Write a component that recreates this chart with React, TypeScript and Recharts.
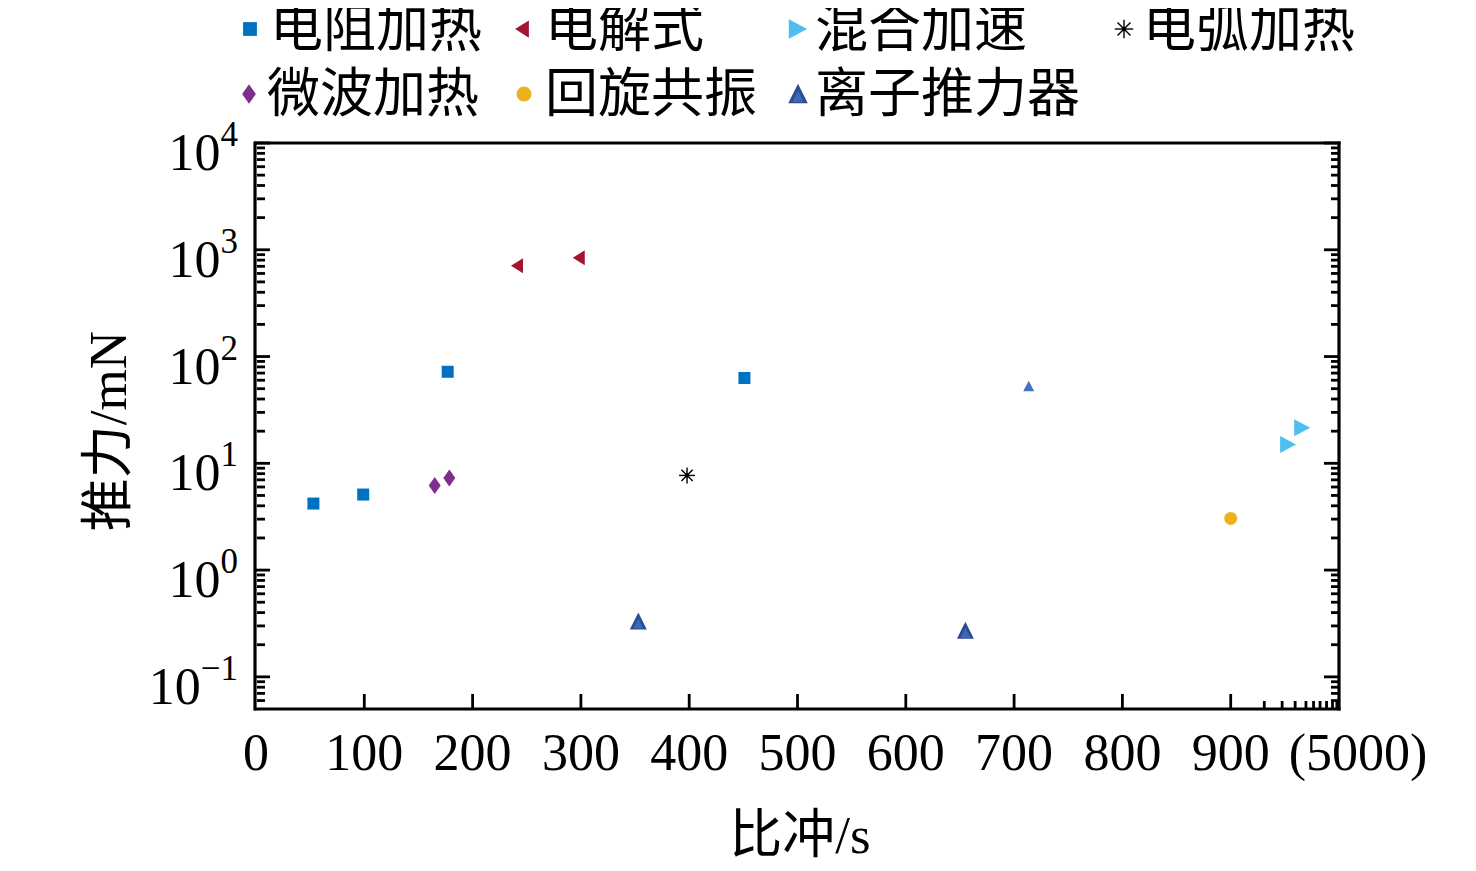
import React from 'react';
import { ScatterChart, Scatter, XAxis, YAxis } from 'recharts';

const FONT = "'Liberation Serif', 'Times New Roman', 'Noto Sans CJK SC', serif";

// ---------- data ----------
const seriesNames = ['电阻加热', '电解式', '混合加速', '电弧加热', '微波加热', '回旋共振', '离子推力器'];

const resistX = [53, 99, 177, 451];
const resistY = [4.2, 5.1, 72, 63];
const electrolyticX = [241, 298];
const electrolyticY = [710, 840];
const hybridX = [953, 966];
const hybridY = [15, 21.5];
const arcX = [398];
const arcY = [7.7];
const microwaveX = [165, 178.5];
const microwaveY = [6.2, 7.3];
const ecrX = [900];
const ecrY = [3.05];
const ionX = [353, 655, 713.5];
const ionY = [0.33, 0.27, 52];

const xMajorTicks = [0, 100, 200, 300, 400, 500, 600, 700, 800, 900, 1000];
const xTickLabels = ['0', '100', '200', '300', '400', '500', '600', '700', '800', '900', '(5000)'];
const xTopTicks = [100, 200, 300, 400, 500, 600, 700, 800, 900];
const xMinorTicks = [931, 947.5, 959.5, 969.5, 976.5, 982.5, 988.5, 994, 998];
const yMajorTicks = [0.1, 1, 10, 100, 1000, 10000];
const yTickExponents = ['−1', '0', '1', '2', '3', '4'];
const yMinorTicks = [
  0.06, 0.07, 0.08, 0.09,
  0.2, 0.3, 0.4, 0.5, 0.6, 0.7, 0.8, 0.9,
  2, 3, 4, 5, 6, 7, 8, 9,
  20, 30, 40, 50, 60, 70, 80, 90,
  200, 300, 400, 500, 600, 700, 800, 900,
  2000, 3000, 4000, 5000, 6000, 7000, 8000, 9000,
];

const zip = (xs: number[], ys: number[]) => xs.map((x, i) => ({ x, y: ys[i] }));
const resistData = zip(resistX, resistY);
const electrolyticData = zip(electrolyticX, electrolyticY);
const hybridData = zip(hybridX, hybridY);
const arcData = zip(arcX, arcY);
const microwaveData = zip(microwaveX, microwaveY);
const ecrData = zip(ecrX, ecrY);
const ionData = zip(ionX, ionY);

const xBottomAllTicks = [...xMajorTicks.slice(0, 10), ...xMinorTicks, 1000];

// ---------- styles ----------
const C_BLUE = '#0070C0';
const C_RED = '#A2142F';
const C_CYAN = '#4DBEEE';
const C_PURPLE = '#7E2F8E';
const C_YELLOW = '#EDB120';
const C_NAVY = '#2C4C8E';
const C_NAVY_IN = '#3D68B5';
const C_ION_SMALL = '#4472C4';

type Kind = 'square' | 'left' | 'right' | 'star' | 'diamond' | 'circle' | 'up' | 'upSmall';

function Marker({ kind, cx, cy, s = 1 }: { kind: Kind; cx: number; cy: number; s?: number }) {
  switch (kind) {
    case 'square':
      return <rect x={cx - 6 * s} y={cy - 6 * s} width={12 * s} height={12 * s} fill={C_BLUE} />;
    case 'left':
      return <polygon points={`${cx - 6 * s},${cy} ${cx + 6 * s},${cy - 7.5 * s} ${cx + 6 * s},${cy + 7.5 * s}`} fill={C_RED} />;
    case 'right':
      return <polygon points={`${cx + 8 * s},${cy} ${cx - 8 * s},${cy - 8.5 * s} ${cx - 8 * s},${cy + 8.5 * s}`} fill={C_CYAN} />;
    case 'star': {
      const r = 8 * s;
      const d = r * 0.7071;
      return (
        <g stroke="#000" strokeWidth={1.4}>
          <line x1={cx - r} y1={cy} x2={cx + r} y2={cy} />
          <line x1={cx} y1={cy - r} x2={cx} y2={cy + r} />
          <line x1={cx - d} y1={cy - d} x2={cx + d} y2={cy + d} />
          <line x1={cx - d} y1={cy + d} x2={cx + d} y2={cy - d} />
          <circle cx={cx} cy={cy} r={1.5} fill="#000" />
        </g>
      );
    }
    case 'diamond':
      return <polygon points={`${cx},${cy - 8.5 * s} ${cx + 6 * s},${cy} ${cx},${cy + 8.5 * s} ${cx - 6 * s},${cy}`} fill={C_PURPLE} />;
    case 'circle':
      return <circle cx={cx} cy={cy} r={6.5 * s} fill={C_YELLOW} />;
    case 'up':
      return (
        <g>
          <polygon points={`${cx},${cy - 9 * s} ${cx + 8.5 * s},${cy + 8 * s} ${cx - 8.5 * s},${cy + 8 * s}`} fill={C_NAVY} />
          <polygon points={`${cx},${cy - 3 * s} ${cx + 5 * s},${cy + 7 * s} ${cx - 5 * s},${cy + 7 * s}`} fill={C_NAVY_IN} />
        </g>
      );
    case 'upSmall':
      return <polygon points={`${cx},${cy - 6} ${cx + 5.5},${cy + 4.5} ${cx - 5.5},${cy + 4.5}`} fill={C_ION_SMALL} />;
  }
  return null;
}

const shapeOf = (kind: Kind) => (p: any) => <Marker kind={kind} cx={p.cx} cy={p.cy} />;
const ionShape = (p: any) => <Marker kind={p.index === 2 ? 'upSmall' : 'up'} cx={p.cx} cy={p.cy} />;

// ---------- tick renderers ----------
const M = 10; // tick margin used for all axes
const MAJOR = 15;
const MINOR = 8;
const TW = 2.8;

const XBottomTick = (p: any) => {
  const { x, y, payload } = p;
  const axisY = y - M;
  const v = payload.value;
  if (xMinorTicks.includes(v)) {
    return <line x1={x} x2={x} y1={axisY} y2={axisY - MINOR} stroke="#000" strokeWidth={TW} />;
  }
  const i = xMajorTicks.indexOf(v);
  const isEdge = v === 0 || v === 1000;
  return (
    <g>
      {!isEdge && <line x1={x} x2={x} y1={axisY} y2={axisY - MAJOR} stroke="#000" strokeWidth={TW} />}
      <text x={x + (v === 1000 ? 19 : 0)} y={axisY + 61} textAnchor="middle" fontSize={52} fontFamily={FONT} fill="#000">
        {xTickLabels[i]}
      </text>
    </g>
  );
};
const XTopTick = (p: any) => {
  const { x, y } = p;
  const axisY = y + M;
  return <line x1={x} x2={x} y1={axisY} y2={axisY + MAJOR} stroke="#000" strokeWidth={TW} />;
};
const YLeftTick = (p: any) => {
  const { x, y, payload } = p;
  const axisX = x + M;
  const i = yMajorTicks.indexOf(payload.value);
  return (
    <g>
      <line x1={axisX} x2={axisX + MAJOR} y1={y} y2={y} stroke="#000" strokeWidth={TW} />
      <text x={axisX - 17} y={y + 27} textAnchor="end" fontSize={52} fontFamily={FONT} fill="#000">
        <tspan>10</tspan>
        <tspan dy={-24} fontSize={35}>{yTickExponents[i]}</tspan>
      </text>
    </g>
  );
};
const YLeftMinorTick = (p: any) => {
  const { x, y } = p;
  const axisX = x + M + 1;
  return <line x1={axisX} x2={axisX + MINOR} y1={y} y2={y} stroke="#000" strokeWidth={TW} />;
};
const YRightTick = (p: any) => {
  const { x, y } = p;
  const axisX = x - M;
  return <line x1={axisX} x2={axisX - MAJOR} y1={y} y2={y} stroke="#000" strokeWidth={TW} />;
};
const YRightMinorTick = (p: any) => {
  const { x, y } = p;
  const axisX = x - M - 1;
  return <line x1={axisX} x2={axisX - MINOR} y1={y} y2={y} stroke="#000" strokeWidth={TW} />;
};

const AXIS_LINE = { stroke: '#000', strokeWidth: 3.2, strokeLinecap: 'square' as const };
const X_DOMAIN: [number, number] = [0, 1000];
const Y_DOMAIN: [number, number] = [0.05, 10000];

// ---------- legend ----------
const legendKinds: Kind[] = ['square', 'left', 'right', 'star', 'diamond', 'circle', 'up'];
const legendPos = [
  { mx: 250, tx: 270, y: 29 },
  { mx: 522, tx: 545, y: 29 },
  { mx: 798, tx: 815, y: 29 },
  { mx: 1124, tx: 1143, y: 29 },
  { mx: 249, tx: 267, y: 94 },
  { mx: 524, tx: 545, y: 94 },
  { mx: 798, tx: 815, y: 94 },
];

function LegendOverlay() {
  return (
    <>
      {seriesNames.map((name, i) => {
        const pos = legendPos[i];
        return (
          <React.Fragment key={name}>
            <svg
              width={24}
              height={24}
              style={{ position: 'absolute', left: pos.mx - 8 - 12, top: pos.y - 8 - 12, overflow: 'visible' }}
            >
              <Marker kind={legendKinds[i]} cx={12} cy={12} s={1.15} />
            </svg>
            <div
              style={{
                position: 'absolute',
                left: pos.tx - 8,
                top: pos.y - 8 - 35,
                height: 70,
                lineHeight: '70px',
                fontSize: 53,
                fontFamily: FONT,
                whiteSpace: 'nowrap',
                color: '#000',
              }}
            >
              {name}
            </div>
          </React.Fragment>
        );
      })}
    </>
  );
}

export default function App() {
  return (
    <div style={{ position: 'relative', width: 1460, height: 855, background: '#fff' }}>
      <ScatterChart width={1460} height={855} margin={{ top: 134, right: 127, bottom: 153, left: 246 }}>
        <XAxis
          xAxisId="main"
          type="number"
          dataKey="x"
          domain={X_DOMAIN}
          allowDataOverflow
          ticks={xBottomAllTicks}
          interval={0}
          height={1}
          tickSize={0}
          tickMargin={M}
          tick={XBottomTick}
          axisLine={AXIS_LINE}
          tickLine={false}
        />
        <XAxis
          xAxisId="top"
          orientation="top"
          type="number"
          domain={X_DOMAIN}
          allowDataOverflow
          ticks={xTopTicks}
          interval={0}
          height={1}
          tickSize={0}
          tickMargin={M}
          tick={XTopTick}
          axisLine={AXIS_LINE}
          tickLine={false}
        />
        <YAxis
          yAxisId="main"
          type="number"
          dataKey="y"
          scale="log"
          domain={Y_DOMAIN}
          allowDataOverflow
          ticks={yMajorTicks}
          interval={0}
          width={1}
          tickSize={0}
          tickMargin={M}
          tick={YLeftTick}
          axisLine={AXIS_LINE}
          tickLine={false}
        />
        <YAxis
          yAxisId="leftMinor"
          type="number"
          scale="log"
          domain={Y_DOMAIN}
          allowDataOverflow
          ticks={yMinorTicks}
          interval={0}
          width={1}
          tickSize={0}
          tickMargin={M}
          tick={YLeftMinorTick}
          axisLine={false}
          tickLine={false}
        />
        <YAxis
          yAxisId="right"
          orientation="right"
          type="number"
          scale="log"
          domain={Y_DOMAIN}
          allowDataOverflow
          ticks={yMajorTicks}
          interval={0}
          width={1}
          tickSize={0}
          tickMargin={M}
          tick={YRightTick}
          axisLine={AXIS_LINE}
          tickLine={false}
        />
        <YAxis
          yAxisId="rightMinor"
          orientation="right"
          type="number"
          scale="log"
          domain={Y_DOMAIN}
          allowDataOverflow
          ticks={yMinorTicks}
          interval={0}
          width={1}
          tickSize={0}
          tickMargin={M}
          tick={YRightMinorTick}
          axisLine={false}
          tickLine={false}
        />
        <Scatter name={seriesNames[0]} data={resistData} xAxisId="main" yAxisId="main" shape={shapeOf('square')} isAnimationActive={false} />
        <Scatter name={seriesNames[1]} data={electrolyticData} xAxisId="main" yAxisId="main" shape={shapeOf('left')} isAnimationActive={false} />
        <Scatter name={seriesNames[2]} data={hybridData} xAxisId="main" yAxisId="main" shape={shapeOf('right')} isAnimationActive={false} />
        <Scatter name={seriesNames[3]} data={arcData} xAxisId="main" yAxisId="main" shape={shapeOf('star')} isAnimationActive={false} />
        <Scatter name={seriesNames[4]} data={microwaveData} xAxisId="main" yAxisId="main" shape={shapeOf('diamond')} isAnimationActive={false} />
        <Scatter name={seriesNames[5]} data={ecrData} xAxisId="main" yAxisId="main" shape={shapeOf('circle')} isAnimationActive={false} />
        <Scatter name={seriesNames[6]} data={ionData} xAxisId="main" yAxisId="main" shape={ionShape} isAnimationActive={false} />
      </ScatterChart>
      <div
        style={{
          position: 'absolute',
          left: 800 - 8 - 100,
          top: 835 - 8 - 35,
          width: 200,
          height: 70,
          lineHeight: '70px',
          textAlign: 'center',
          fontSize: 53,
          fontFamily: FONT,
          color: '#000',
        }}
      >
        比冲/s
      </div>
      <div
        style={{
          position: 'absolute',
          left: 108 - 8 - 150,
          top: 431 - 8 - 35,
          width: 300,
          height: 70,
          lineHeight: '70px',
          textAlign: 'center',
          fontSize: 53,
          fontFamily: FONT,
          color: '#000',
          transform: 'rotate(-90deg)',
        }}
      >
        推力/mN
      </div>
      <LegendOverlay />
    </div>
  );
}
